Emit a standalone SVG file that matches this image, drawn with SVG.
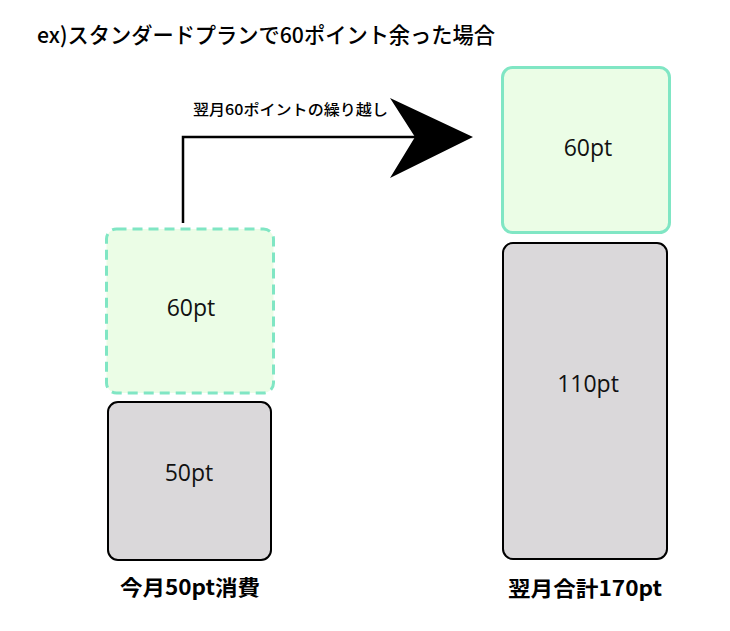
<svg xmlns="http://www.w3.org/2000/svg" width="730" height="631" viewBox="0 0 730 631">
  <style>
    .jp { font-family: "Noto Sans CJK JP", "Noto Sans", sans-serif; fill: #000; }
    .val { font-family: "Open Sans", "Noto Sans", sans-serif; font-size: 23px; fill: #111; text-anchor: middle; }
    .green { fill: #ebfde6; stroke: #80e6c4; stroke-width: 3; }
    .gray { fill: #dad8da; stroke: #000; stroke-width: 2; }
    .conn { fill: none; stroke: #000; stroke-width: 2.5; }
    .head { fill: #000; stroke: none; }
  </style>
  <rect width="730" height="631" fill="#fff"/>

  <g id="title">
    <text class="jp" x="37" y="43" font-size="22" font-weight="500" textLength="458" lengthAdjust="spacingAndGlyphs">ex)スタンダードプランで60ポイント余った場合</text>
  </g>

  <g id="connectors">
    <path class="conn" d="M183,223 L183,137 L416,137"/>
    <polygon class="head" points="473,137 390,98 415,137 390,178"/>
    <text class="jp" x="193" y="115" font-size="15" font-weight="500" textLength="195" lengthAdjust="spacingAndGlyphs">翌月60ポイントの繰り越し</text>
  </g>

  <g id="carry-over-60">
    <rect class="green" x="106.5" y="229" width="167" height="164" rx="10" stroke-dasharray="10 6"/>
    <text class="val" x="191" y="316">60pt</text>
  </g>

  <g id="used-50">
    <rect class="gray" x="108" y="402" width="163" height="158" rx="10"/>
    <text class="val" x="189" y="481">50pt</text>
  </g>

  <g id="label-this-month">
    <text class="jp" x="190" y="595" font-size="21" font-weight="bold" text-anchor="middle" textLength="140" lengthAdjust="spacingAndGlyphs">今月50pt消費</text>
  </g>

  <g id="next-60">
    <rect class="green" x="502.5" y="67.5" width="167" height="165" rx="10"/>
    <text class="val" x="588" y="156">60pt</text>
  </g>

  <g id="next-110">
    <rect class="gray" x="503" y="243" width="164" height="316" rx="10"/>
    <text class="val" x="588" y="392">110pt</text>
  </g>

  <g id="label-next-month">
    <text class="jp" x="585" y="596" font-size="21" font-weight="bold" text-anchor="middle" textLength="154" lengthAdjust="spacingAndGlyphs">翌月合計170pt</text>
  </g>
</svg>
